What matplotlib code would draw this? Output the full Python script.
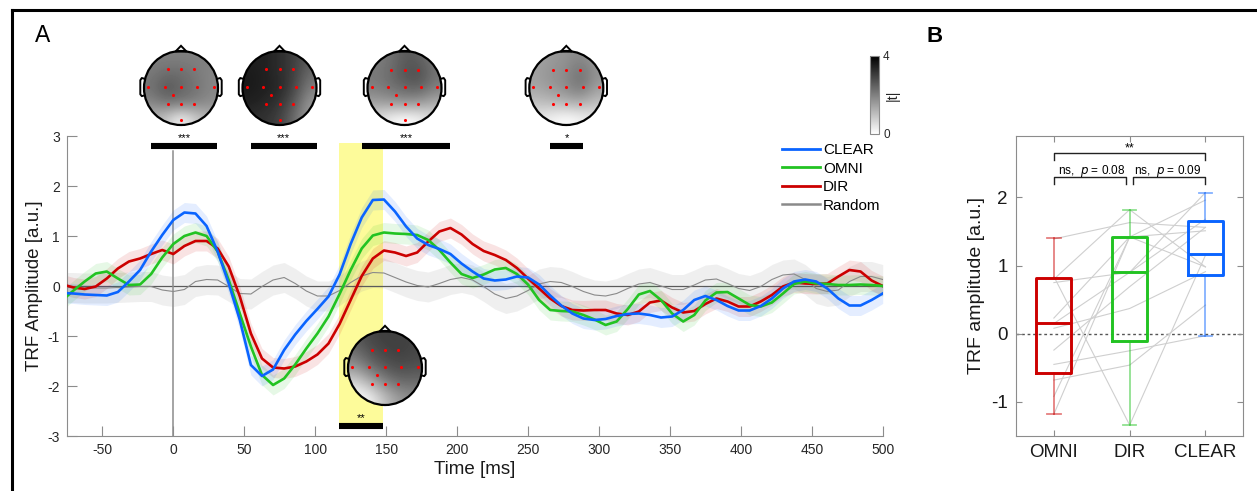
import numpy as np
import matplotlib.pyplot as plt
from matplotlib.patches import Circle, Rectangle, Polygon
from matplotlib.lines import Line2D
from matplotlib.cm import ScalarMappable
from matplotlib.colors import Normalize

plt.rcParams['font.family'] = ['Liberation Sans', 'DejaVu Sans']
plt.rcParams['axes.unicode_minus'] = False

W, H = 1257, 491

# --- Panel A data: TRF time courses (128 Hz samples) ---
time_ms = np.arange(-10, 65) * 7.8125

clear_trf = [-0.14, -0.15, -0.17, -0.18, -0.19, -0.12, 0.09, 0.32, 0.69, 1.02,
             1.32, 1.47, 1.45, 1.20, 0.69, 0.05, -0.68, -1.58, -1.80, -1.67,
             -1.28, -0.97, -0.70, -0.46, -0.21, 0.23, 0.84, 1.37, 1.72, 1.73,
             1.49, 1.19, 0.95, 0.82, 0.74, 0.64, 0.45, 0.29, 0.15, 0.11,
             0.13, 0.19, 0.17, 0.03, -0.19, -0.39, -0.55, -0.65, -0.68, -0.66,
             -0.60, -0.56, -0.55, -0.58, -0.63, -0.61, -0.48, -0.28, -0.20, -0.28,
             -0.40, -0.49, -0.49, -0.40, -0.25, -0.05, 0.09, 0.13, 0.09, -0.05,
             -0.25, -0.39, -0.39, -0.28, -0.15]
omni_trf = [-0.28, -0.09, 0.09, 0.25, 0.29, 0.15, 0.02, 0.03, 0.24, 0.57,
            0.84, 1.00, 1.07, 1.00, 0.69, 0.12, -0.55, -1.21, -1.78, -1.98,
            -1.85, -1.57, -1.25, -0.95, -0.61, -0.16, 0.32, 0.75, 1.01, 1.07,
            1.05, 1.04, 1.02, 0.92, 0.72, 0.47, 0.24, 0.16, 0.23, 0.33,
            0.36, 0.24, 0.03, -0.28, -0.48, -0.50, -0.51, -0.58, -0.67, -0.78,
            -0.71, -0.46, -0.17, -0.10, -0.28, -0.55, -0.71, -0.58, -0.29, -0.13,
            -0.12, -0.25, -0.38, -0.41, -0.33, -0.15, 0.04, 0.09, 0.05, 0.04,
            0.02, 0.02, 0.03, 0.02, 0.00]
dir_trf = [0.03, -0.03, -0.06, -0.01, 0.15, 0.35, 0.49, 0.55, 0.64, 0.72,
           0.64, 0.80, 0.90, 0.90, 0.75, 0.39, -0.21, -0.95, -1.45, -1.63,
           -1.65, -1.61, -1.51, -1.37, -1.15, -0.76, -0.28, 0.20, 0.55, 0.71,
           0.67, 0.60, 0.67, 0.89, 1.09, 1.16, 1.03, 0.84, 0.70, 0.62,
           0.52, 0.36, 0.15, -0.05, -0.25, -0.40, -0.48, -0.49, -0.48, -0.48,
           -0.55, -0.58, -0.51, -0.33, -0.29, -0.43, -0.53, -0.50, -0.36, -0.25,
           -0.31, -0.41, -0.41, -0.31, -0.18, -0.01, 0.07, 0.05, 0.04, 0.05,
           0.19, 0.32, 0.29, 0.11, 0.00]
random_trf = [-0.03, -0.03, -0.04, -0.04, -0.04, -0.03, -0.02, -0.01, -0.01, -0.08,
              -0.11, -0.07, 0.09, 0.13, 0.12, -0.01, -0.15, -0.16, -0.01, 0.12,
              0.17, 0.05, -0.10, -0.20, -0.20, -0.09, 0.07, 0.20, 0.27, 0.26,
              0.17, 0.08, 0.01, -0.02, 0.05, 0.13, 0.17, 0.12, -0.01, -0.16,
              -0.25, -0.20, -0.09, 0.04, 0.09, 0.07, -0.01, -0.11, -0.18, -0.20,
              -0.15, -0.05, 0.04, 0.07, 0.00, -0.07, -0.07, 0.02, 0.12, 0.14,
              0.05, -0.05, -0.09, -0.01, 0.13, 0.22, 0.24, 0.13, -0.05, -0.11,
              -0.08, 0.09, 0.19, 0.19, 0.13]

cond_names = ['CLEAR', 'OMNI', 'DIR', 'Random']
cond_colors = ['#0a64ff', '#22c322', '#cc0000', '#8a8a8a']
cond_sem = [0.2, 0.2, 0.2, 0.3]

# significance clusters [ms]
sig_start = [-15.7, 54.5, 132.8, 265.5]
sig_end = [31.0, 101.3, 195.0, 289.0]
sig_stars = ['***', '***', '***', '*']
low_start, low_end, low_star = 117.0, 148.0, '**'

# topographies of |t| (5x5 coarse grids, top row = front)
topo_1 = [[2.0, 2.0, 2.0, 2.0, 2.0],
          [2.1, 2.3, 2.3, 2.1, 1.9],
          [2.2, 2.7, 2.4, 2.2, 1.9],
          [1.9, 2.2, 2.2, 2.0, 1.8],
          [1.2, 0.9, 0.1, 0.8, 1.2]]
topo_2 = [[3.5, 3.5, 3.3, 3.0, 2.6],
          [3.6, 3.5, 3.3, 3.0, 2.3],
          [3.6, 3.5, 3.4, 2.9, 2.0],
          [3.5, 3.4, 3.2, 2.6, 1.6],
          [3.3, 3.2, 3.0, 2.3, 1.5]]
topo_3 = [[2.0, 2.2, 2.6, 2.5, 2.1],
          [2.1, 2.3, 2.7, 2.8, 2.2],
          [2.0, 2.2, 2.4, 2.5, 2.0],
          [1.5, 1.6, 1.7, 1.6, 1.3],
          [0.6, 0.2, 0.0, 0.2, 0.6]]
topo_4 = [[1.4, 1.6, 1.7, 1.9, 1.6],
          [1.5, 1.7, 1.8, 2.3, 1.7],
          [1.4, 1.6, 1.8, 2.2, 1.5],
          [1.0, 1.1, 1.2, 1.3, 1.0],
          [0.4, 0.2, 0.0, 0.2, 0.4]]
topo_5 = [[2.6, 2.9, 3.0, 3.0, 2.9],
          [2.2, 2.7, 2.9, 3.0, 2.9],
          [1.6, 2.2, 2.6, 2.8, 2.7],
          [0.6, 1.2, 1.9, 2.3, 2.3],
          [0.0, 0.2, 1.0, 1.6, 1.8]]

elec_x = [-0.36, 0.0, 0.36, -0.89, -0.44, 0.0, 0.44, 0.89, -0.22, -0.36, 0.0, 0.36]
elec_y = [0.50, 0.50, 0.50, 0.04, 0.04, 0.04, 0.04, 0.04, -0.18, -0.42, -0.42, -0.42]

# --- Panel B data ---
box_labels = ['OMNI', 'DIR', 'CLEAR']
box_colors = ['#cc0000', '#22c322', '#0a64ff']
box_med = [0.16, 0.90, 1.17]
box_q1 = [-0.58, -0.10, 0.86]
box_q3 = [0.82, 1.42, 1.66]
box_lo = [-1.18, -1.34, -0.03]
box_hi = [1.40, 1.82, 2.07]

subj_omni = [1.39, 0.84, 0.75, -1.18, -0.92, -0.68, -0.24, 0.08, 0.15, 0.23, -0.45, 0.80]
subj_dir = [1.63, -1.34, 0.90, 1.42, 1.42, -0.46, 0.69, 0.37, 0.90, 1.42, -0.25, 1.82]
subj_clear = [1.56, 1.15, 1.68, 0.98, 1.51, 0.42, 1.56, 0.91, 2.07, 1.96, -0.03, 0.98]

fig = plt.figure(figsize=(W / 100, H / 100), dpi=100)

# ---------------- Panel A ----------------
ax = fig.add_axes([66.9 / W, 1 - 436 / H, (882.7 - 66.9) / W, 300 / H])
ax.set_xlim(-75, 500)
ax.set_ylim(-3, 3)

ax.add_patch(Rectangle((low_start, -2.8), low_end - low_start, 5.66,
                       facecolor='#fdfb9a', edgecolor='none', zorder=0, clip_on=False))
ax.axhline(0, color='#505050', lw=0.9, zorder=1)
ax.plot([0, 0], [-3, 2.7], color='#8c8c8c', lw=1.1, zorder=1)

series = [clear_trf, omni_trf, dir_trf, random_trf]
for vals, name, col, sem in zip(series[::-1], cond_names[::-1], cond_colors[::-1], cond_sem[::-1]):
    vals = np.array(vals)
    if name == 'Random':
        ax.fill_between(time_ms, vals - sem, vals + sem, color='#9a9a9a', alpha=0.15, lw=0, zorder=2)
        ax.plot(time_ms, vals, color=col, lw=0.8, zorder=3)
    else:
        ax.fill_between(time_ms, vals - sem, vals + sem, color=col, alpha=0.11, lw=0, zorder=2)
for vals, name, col in zip(series[:3][::-1], cond_names[:3][::-1], cond_colors[:3][::-1]):
    ax.plot(time_ms, vals, color=col, lw=1.9, zorder=4)

ax.hlines([2.8] * len(sig_start), sig_start, sig_end, color='k', lw=4.4, clip_on=False, zorder=5)
for s, e, st in zip(sig_start, sig_end, sig_stars):
    ax.text((s + e) / 2, 2.96, st, ha='center', va='center', fontsize=8, clip_on=False)
ax.hlines([-2.8], [low_start], [low_end], color='k', lw=4.4, clip_on=False, zorder=5)
ax.text((low_start + low_end) / 2, -2.64, low_star, ha='center', va='center', fontsize=8, zorder=6)

for sp in ['top', 'right']:
    ax.spines[sp].set_visible(False)
for sp in ['left', 'bottom']:
    ax.spines[sp].set_color('#8c8c8c')
ax.set_xticks(np.arange(-50, 501, 50))
ax.set_yticks(np.arange(-3, 4, 1))
ax.tick_params(direction='in', length=7, color='#8c8c8c', labelsize=10,
               labelcolor='#262626', pad=5)
ax.set_xlabel('Time [ms]', fontsize=13.5, labelpad=3, color='#1a1a1a')
ax.set_ylabel('TRF Amplitude [a.u.]', fontsize=13.5, labelpad=3, color='#1a1a1a')

legend_handles = [Line2D([], [], color=c, lw=2.0 if n != 'Random' else 1.8) for n, c in zip(cond_names, cond_colors)]
fig.legend(legend_handles, cond_names, loc='upper left', bbox_to_anchor=(782 / W, 1 - 143 / H),
           frameon=False, fontsize=11, handlelength=2.5, handletextpad=0.2,
           labelspacing=0.3, borderpad=0, borderaxespad=0)


def draw_head(cx, cy, grid, bottom_dot):
    r = 37.0
    s = 1.25
    hx = fig.add_axes([(cx - s * r) / W, 1 - (cy + s * r) / H, 2 * s * r / W, 2 * s * r / H])
    im = hx.imshow(grid, cmap='gray_r', vmin=0, vmax=4, extent=[-1, 1, -1, 1],
                   interpolation='bicubic', zorder=1)
    im.set_clip_path(Circle((0, 0), 1, transform=hx.transData))
    hx.set_xlim(-s, s)
    hx.set_ylim(-s, s)
    hx.axis('off')
    hx.add_patch(Polygon([[-0.15, 0.985], [0, 1.14], [0.15, 0.985]], closed=True,
                         facecolor='white', edgecolor='k', lw=1.4, zorder=2))
    hx.add_patch(Circle((0, 0), 1, fill=False, edgecolor='k', lw=1.6, zorder=3))
    ear_x = [0.99, 1.06, 1.1, 1.1, 1.06, 0.99]
    ear_y = [0.25, 0.27, 0.21, -0.17, -0.22, -0.2]
    hx.plot(ear_x, ear_y, color='k', lw=1.4, zorder=3)
    hx.plot([-v for v in ear_x], ear_y, color='k', lw=1.4, zorder=3)
    ex, ey = list(elec_x), list(elec_y)
    if bottom_dot:
        ex.append(0.0)
        ey.append(-0.86)
    hx.scatter(ex, ey, s=5, color='#ff0000', lw=0, zorder=4)


draw_head(181, 88, topo_1, True)
draw_head(279.5, 88, topo_2, True)
draw_head(404.5, 88, topo_3, True)
draw_head(566.3, 88, topo_4, False)
draw_head(385, 368, topo_5, False)

cax = fig.add_axes([870 / W, 1 - 134 / H, 9 / W, 78 / H])
cb = fig.colorbar(ScalarMappable(Normalize(0, 4), cmap='gray_r'), cax=cax, ticks=[0, 4])
cb.outline.set_edgecolor('#8c8c8c')
cb.outline.set_linewidth(0.8)
cax.tick_params(length=0, labelsize=8.5, pad=3, labelcolor='#262626')
cb.set_label('|t|', fontsize=10.5, labelpad=-3, color='#262626')

# ---------------- Panel B ----------------
bx = fig.add_axes([1016 / W, 1 - 436 / H, (1243.3 - 1016) / W, 300 / H])
positions = [1, 2, 3]
for a, b, c in zip(subj_omni, subj_dir, subj_clear):
    bx.plot(positions, [a, b, c], color='#cfcfcf', lw=0.8, zorder=1)

bx.axhline(0, color='#555555', lw=1.0, ls=(0, (2, 2)), zorder=0)

stats = [dict(med=m, q1=q1, q3=q3, whislo=lo, whishi=hi, fliers=[])
         for m, q1, q3, lo, hi in zip(box_med, box_q1, box_q3, box_lo, box_hi)]
bp = bx.bxp(stats, positions=positions, widths=0.46, showfliers=False, capwidths=0.18,
            patch_artist=False)
for i, col in enumerate(box_colors):
    bp['boxes'][i].set(color=col, lw=2.1, zorder=3)
    bp['medians'][i].set(color=col, lw=2.1, zorder=3)
    for w in bp['whiskers'][2 * i:2 * i + 2]:
        w.set(color=col, lw=1.3, alpha=0.5, zorder=2)
    for c in bp['caps'][2 * i:2 * i + 2]:
        c.set(color=col, lw=1.3, alpha=0.5, zorder=2)

bx.set_xlim(0.5, 3.5)
bx.set_ylim(-1.5, 2.9)
bx.set_yticks([-1, 0, 1, 2])
bx.set_xticks(positions)
bx.set_xticklabels(box_labels)
for sp in bx.spines.values():
    sp.set_color('#8c8c8c')
bx.tick_params(direction='in', length=4, color='#8c8c8c', labelsize=13.5,
               labelcolor='#1a1a1a', top=True, right=True, pad=6)
bx.set_ylabel('TRF amplitude [a.u.]', fontsize=14, labelpad=4, color='#1a1a1a')

# significance brackets
bx.plot([1, 1, 3, 3], [2.55, 2.645, 2.645, 2.55], color='#222222', lw=1.0)
bx.text(2, 2.72, '**', ha='center', va='center', fontsize=9)
bx.plot([1, 1, 1.95, 1.95], [2.2, 2.3, 2.3, 2.2], color='#222222', lw=1.0)
bx.plot([2.05, 2.05, 3, 3], [2.2, 2.3, 2.3, 2.2], color='#222222', lw=1.0)
bx.text(1.5, 2.39, 'ns,  $p$ = 0.08', ha='center', va='center', fontsize=8.5)
bx.text(2.5, 2.39, 'ns,  $p$ = 0.09', ha='center', va='center', fontsize=8.5)

# panel letters and frame
fig.text(43 / W, 1 - 36 / H, 'A', fontsize=16.5, ha='center', va='center')
fig.text(935 / W, 1 - 36 / H, 'B', fontsize=16, ha='center', va='center', fontweight='bold')
fig.add_artist(Line2D([12 / W, 1], [1 - 10 / H, 1 - 10 / H], color='k', lw=2.2, transform=fig.transFigure))
fig.add_artist(Line2D([12 / W, 12 / W], [0, 1 - 10 / H], color='k', lw=2.2, transform=fig.transFigure))

fig.savefig('out.png', dpi=100)
